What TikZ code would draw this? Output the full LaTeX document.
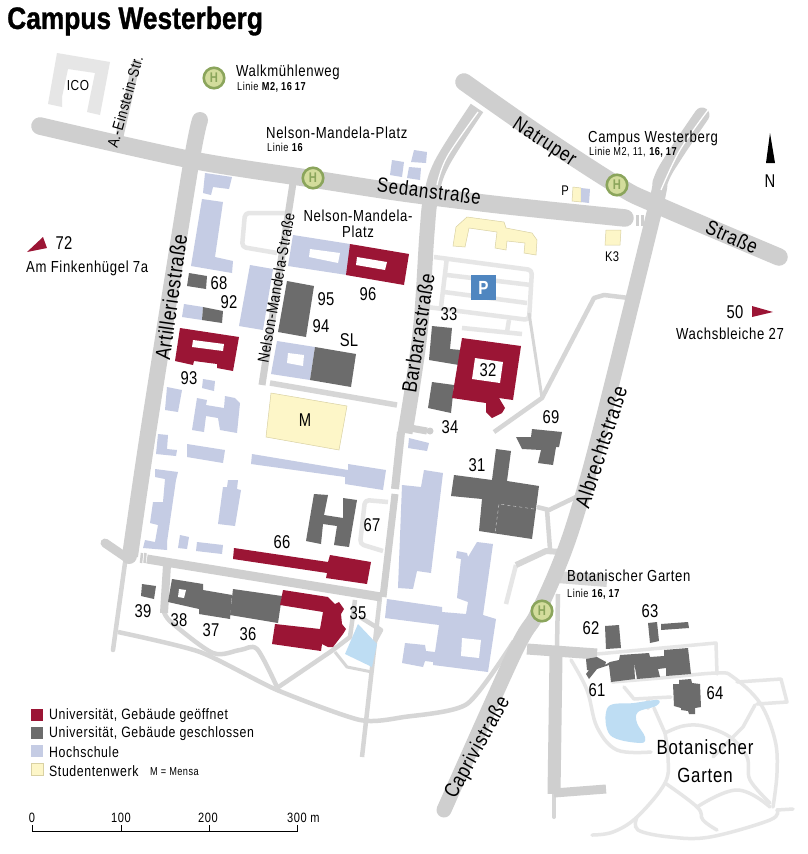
\documentclass[tikz,border=0pt]{standalone}
\usepackage{fontspec}
\setmainfont{Liberation Sans}[FakeStretch=0.8]
\newfontfamily\lab{Liberation Sans}[FakeStretch=0.82,LetterSpace=4]
\newfontfamily\numf{Liberation Sans}[FakeStretch=0.8,LetterSpace=2]
\newfontfamily\subf{Liberation Sans}[FakeStretch=0.8,LetterSpace=4]
\newfontfamily\ttl{Liberation Sans}[FakeStretch=0.85,BoldFeatures={FakeBold=1}]
\definecolor{uni}{HTML}{9B1535}
\definecolor{grau}{HTML}{6C6C6C}
\definecolor{hs}{HTML}{C5CCE4}
\definecolor{sw}{HTML}{FDF6C8}
\definecolor{swl}{HTML}{D9D1A3}
\definecolor{strasse}{HTML}{CFCFCF}
\definecolor{weg}{HTML}{D6D6D6}
\definecolor{hell}{HTML}{E6E6E6}
\definecolor{wasser}{HTML}{BEDDF3}
\definecolor{holive}{HTML}{8BA55C}
\definecolor{hfill}{HTML}{D3DC9C}
\definecolor{pblau}{HTML}{4F86C0}
\tikzset{
  road/.style={draw=strasse,line width=17.5pt,line cap=round,line join=round},
  lanerd/.style={draw=strasse,line width=15pt,line cap=round,line join=round},
  wayb/.style={draw=strasse,line width=9pt,line join=round},
  wayp/.style={draw=weg,line width=4.5pt,line join=round},
  lightway/.style={draw=hell,line width=4.5pt,line join=round,rounded corners=4pt},
  gard/.style={draw=hell,line width=3.5pt,line join=round,line cap=round},
  whiteline/.style={draw=white,line width=1.3pt},
  ubld/.style={fill=uni},
  gbld/.style={fill=grau},
  hbld/.style={fill=hs},
  ybld/.style={fill=sw,draw=swl,line width=.5pt},
  holebld/.style={fill=white},
  waterbody/.style={fill=wasser},
  nrlabel/.style={font=\numf\fontsize{18.5}{19}\selectfont,inner sep=0pt},
  stopname/.style={font=\lab\fontsize{16}{17}\selectfont,inner sep=0pt,anchor=west},
  legendtext/.style={font=\lab\fontsize{15}{16}\selectfont,inner sep=0pt,anchor=west},
  scaletext/.style={font=\lab\fontsize{13.5}{14}\selectfont,inner sep=0pt},
  subline/.style={font=\subf\fontsize{11.5}{12}\selectfont,inner sep=0pt,anchor=west},
  strname/.style={font=\lab\fontsize{20.5}{21}\selectfont,inner sep=0pt},
  hstop/.style={circle,draw=holive,line width=2.6pt,fill=hfill,minimum size=20.5pt,inner sep=0pt,text=holive,font=\bfseries\fontsize{14}{14}\selectfont},
  keybox/.style={minimum width=12pt,minimum height=11.5pt,inner sep=0pt,anchor=north west},
}
\begin{document}
\begin{tikzpicture}[x=1pt,y=-1pt]
\useasboundingbox (0,0) rectangle (808,854);
\fill[white] (0,0) rectangle (808,854);

% garden paths
\draw[gard] plot[smooth,tension=.6] coordinates {(612,682) (660,678) (717,673) (733,677) (760,703) (775,740) (777,773) (773,807)};
\draw[gard] (597,654) -- (716,643) -- (717,674);
\draw[gard] (737,682) -- (781,679) -- (787,702) -- (757,704);
\draw[gard] plot[smooth,tension=.6] coordinates {(571,660) (587,690) (597,727) (617,750) (651,752)};
\draw[gard] (624,687) -- (634,699) -- (671,697);
\draw[gard] (648,700) -- (648,708);
\draw[gard] (654,708) -- (665,733);
\draw[gard] plot[smooth,tension=.6] coordinates {(665,733) (683,726) (703,726) (730,737) (747,757) (750,780) (770,803)};
\draw[gard] (755,705) -- (743,727) -- (713,757);
\draw[gard] plot[smooth,tension=.6] coordinates {(665,733) (668,757) (665,783) (637,817) (613,832) (592,835)};
\draw[gard] plot[smooth,tension=.6] coordinates {(637,817) (638,830) (670,837) (710,837) (770,820) (777,810)};
\draw[gard] (777,810) -- (793,809);
\draw[gard] plot[smooth,tension=.7] coordinates {(665,783) (697,807) (703,820) (717,830)};
\draw[gard] plot[smooth,tension=.7] coordinates {(697,807) (737,790) (770,807)};

% light ways
\draw[lightway] (287,213) -- (245,213) -- (242,247) -- (277,253);
\draw[lightway] (388,502) -- (365,500) -- (360,544) -- (383,551);
\draw[lightway] (434,257) -- (532,270) -- (529,320) -- (427,307);
\draw[lightway] (447,257) -- (441,307);
\draw[lightway] (447,275) -- (531,285);
\draw[lightway] (444,292) -- (527,303);
\draw[lightway] (462,328) -- (522,334);
\draw[lightway] (509,320) -- (507,332);
\draw[lightway] (516,565) -- (506,604);

% ways
\draw[wayp] plot[smooth,tension=.5] coordinates {(164,612) (172,623) (213,653) (240,650) (257,649) (277,687)};
\draw[wayp] plot[smooth,tension=.4] coordinates {(118,632) (200,652) (277,690) (360,720) (404,717) (467,704) (514,641)};
\draw[wayp] (514,641) -- (520,645);
\draw[wayp] (277,688) -- (333,650) -- (350,637) -- (355,600);
\draw[wayp,line cap=round] (125,563) -- (113,650);
\draw[wayp] (380,597) -- (362,757);
\draw[wayp,line width=3pt] (335,652) -- (347,667) -- (372,672);
\draw[wayp] (360,617) -- (381,630) -- (375,641);
\draw[wayp] (629,298) -- (604,295) -- (594,298) -- (542,398) -- (494,432);
\draw[wayp,line width=3pt] (529,313) -- (542,398);
\draw[wayp,line width=5.5pt] (270,383) -- (397,405);
\draw[wayp] (537,507) -- (549,510) -- (576,497);
\draw[wayp] (547,510) -- (550,549);
\draw[wayp,line width=6pt] (516,565) -- (546,551) -- (561,552);
\draw[wayp] (558,594) -- (557,647);
\draw[wayp,line width=4pt,line cap=round] (554,792) -- (554,817);
\draw[wayp,line width=12pt] (557,577) -- (607,581);

% secondary streets
\draw[wayb,line width=7pt] (293,183) -- (262,385);
\draw[wayb,line width=8pt] (137,60) -- (117,147);
\draw[wayb] (147,559) -- (381,597);
\draw[wayb,line width=8pt] (167,565) -- (164,613);
\draw[wayb,line width=8pt] (401,432) -- (395,489);
\draw[wayb,line width=7pt] (395,494) -- (383,597);
\draw[wayb,line width=7pt] (410,428) -- (427,431);
\fill[strasse] (430,431) circle (3.5pt);
\draw[wayb,line width=11pt] (527,649) -- (597,654);
\draw[wayb,line width=13pt] (556,655) -- (554,794);
\draw[wayb] (554,793) -- (606,789);
\draw[wayb,line width=2.5pt] (142,553) -- (141,563);
\draw[wayb,line width=2.5pt] (145.5,553) -- (144.5,563);
\draw[wayb,line width=3pt] (637,215) -- (637,226);
\draw[wayb,line width=3pt] (642,215) -- (642,226);

% main roads
\draw[road] plot[smooth,tension=.5] coordinates {(40,126) (192,160) (313,179) (404,193) (500,205) (625,218)};
\draw[road,line width=16pt,line cap=butt] plot[smooth,tension=.5] coordinates {(200,120) (190,170) (149,427) (130,556)};
\fill[strasse] (200,120) circle (8pt);
\fill[strasse] (129,556) circle (8pt);
\draw[road,line width=9pt] (105,543) -- (124,556);
\draw[road] plot[smooth,tension=.6] coordinates {(464,82) (537,133) (617,185) (657,205) (779,257)};
\draw[lanerd,line cap=butt] plot[smooth,tension=.6] coordinates {(477,108) (442,163) (431,197) (427,233) (420,333) (405,433)};
\draw[whiteline] plot[smooth,tension=.6] coordinates {(478,112) (447,157) (437,185)};
\draw[lanerd] plot[smooth,tension=.6] coordinates {(702,115) (675,155) (661,180) (654,213) (601,427) (579,507) (561,560) (537,614) (514,654) (444,810)};
\draw[whiteline] plot[smooth,tension=.6] coordinates {(708,110) (680,150) (661,190)};

% Studentenwerk
\filldraw[ybld] (467,217) -- (504,222) -- (506,228) -- (532,233) -- (537,240) -- (536,255) -- (524,253) -- (525,243) -- (507,241) -- (506,250) -- (495,248) -- (497,232) -- (469,228) -- (465,247) -- (453,246) -- (456,227) -- cycle;
\filldraw[ybld] (573,187) -- (581,188) -- (581,202) -- (572,201) -- cycle;
\filldraw[ybld] (606,230) -- (621,230) -- (620,245) -- (605,245) -- cycle;
\filldraw[ybld] (271,393) -- (347,406) -- (339,450) -- (266,437) -- cycle;

% ICO
\fill[hell] (57,53) -- (110,62) -- (100,115) -- (87,112) -- (90,97) -- (95,73) -- (68,69) -- (62,97) -- (62,107) -- (48,104) -- cycle;

% Hochschule
\fill[hbld] (205,173) -- (232,177) -- (229,189) -- (213,187) -- (211,195) -- (203,193) -- cycle;
\fill[hbld] (202,199) -- (223,202) -- (215,257) -- (233,261) -- (232,273) -- (191,266) -- cycle;
\fill[hbld] (250,265) -- (273,269) -- (263,330) -- (239,326) -- cycle;
\fill[hbld] (293,235) -- (350,244) -- (347,275) -- (288,266) -- cycle;
\fill[holebld] (310,249) -- (340,253) -- (338,263) -- (309,257) -- cycle;
\fill[hbld] (184,304) -- (203,307) -- (202,320) -- (182,317) -- cycle;
\fill[hbld] (277,341) -- (315,347) -- (310,380) -- (271,374) -- cycle;
\fill[holebld] (288,353) -- (304,355) -- (303,366) -- (287,363) -- cycle;
\fill[hbld] (203,379) -- (215,381) -- (214,391) -- (202,388) -- cycle;
\fill[hbld] (167,387) -- (182,390) -- (178,412) -- (165,410) -- cycle;
\fill[hbld] (158,434) -- (168,435) -- (167,449) -- (177,450) -- (176,456) -- (156,454) -- cycle;
\fill[hbld] (197,398) -- (207,400) -- (206,405) -- (224,408) -- (225,396) -- (235,398) -- (240,403) -- (237,433) -- (220,430) -- (218,418) -- (206,416) -- (204,432) -- (192,430) -- cycle;
\fill[hbld] (187,444) -- (225,450) -- (223,463) -- (187,457) -- cycle;
\fill[hbld] (252,454) -- (348,470) -- (348,464) -- (386,470) -- (383,490) -- (345,484) -- (345,477) -- (251,464) -- cycle;
\fill[hbld] (155,469) -- (178,472) -- (176,480) -- (167,542) -- (167,550) -- (143,548) -- (145,540) -- (155,542) -- (158,525) -- (150,523) -- (153,502) -- (163,502) -- (165,479) -- (155,477) -- cycle;
\fill[hbld] (228,480) -- (238,480) -- (237,489) -- (241,490) -- (235,526) -- (218,524) -- (223,487) -- (227,487) -- cycle;
\fill[hbld] (180,535) -- (189,537) -- (187,549) -- (178,548) -- cycle;
\fill[hbld] (197,542) -- (223,545) -- (222,554) -- (196,551) -- cycle;
\fill[hbld] (581,188) -- (590,189) -- (589,203) -- (581,202) -- cycle;
\fill[hbld] (414,150) -- (427,152) -- (426,163) -- (411,162) -- cycle;
\fill[hbld] (409,167) -- (421,168) -- (420,180) -- (407,178) -- cycle;
\fill[hbld] (392,160) -- (404,162) -- (402,177) -- (390,175) -- cycle;
\fill[hbld] (409,438) -- (429,443) -- (427,451) -- (408,448) -- cycle;
\fill[hbld] (402,485) -- (421,487) -- (424,470) -- (443,473) -- (431,573) -- (417,571) -- (413,589) -- (398,588) -- cycle;
\fill[hbld] (387,599) -- (442,607) -- (442,612) -- (466,614) -- (468,602) -- (457,598) -- (461,559) -- (456,558) -- (457,551) -- (467,553) -- (468,557) -- (477,542) -- (493,544) -- (483,615) -- (496,619) -- (488,672) -- (433,665) -- (433,662) -- (425,661) -- (423,667) -- (402,663) -- (405,643) -- (425,645) -- (426,651) -- (435,652) -- (439,625) -- (385,618) -- cycle;
\fill[holebld] (462,638) -- (481,640) -- (479,658) -- (461,656) -- cycle;

% water
\fill[waterbody] (358,624) -- (377,644) -- (372,667) -- (345,654) -- cycle;
\fill[waterbody] plot[smooth cycle,tension=.6] coordinates {(608,707) (634,703) (658,700) (656,706) (638,712) (637,723) (645,737) (640,743) (610,735)};

% Universitaet geschlossen
\fill[gbld] (189,273) -- (207,276) -- (206,289) -- (187,286) -- cycle;
\fill[gbld] (203,307) -- (223,311) -- (222,323) -- (202,320) -- cycle;
\fill[gbld] (287,281) -- (314,286) -- (306,337) -- (278,332) -- cycle;
\fill[gbld] (315,347) -- (356,354) -- (351,387) -- (310,380) -- cycle;
\fill[gbld] (314,494) -- (328,495) -- (324,515) -- (343,518) -- (343,498) -- (357,500) -- (349,547) -- (334,545) -- (337,526) -- (323,524) -- (321,544) -- (306,541) -- cycle;
\fill[gbld] (142,584) -- (156,586) -- (154,599) -- (141,596) -- cycle;
\fill[gbld] (172,579) -- (203,584) -- (203,590) -- (232,595) -- (230,619) -- (199,614) -- (199,609) -- (168,602) -- cycle;
\fill[holebld] (179,589) -- (186,590) -- (184,598) -- (178,597) -- cycle;
\fill[gbld] (233,589) -- (282,596) -- (278,623) -- (230,615) -- cycle;
\fill[gbld] (432,326) -- (452,328) -- (450,349) -- (461,350) -- (459,365) -- (429,360) -- cycle;
\fill[gbld] (432,382) -- (454,385) -- (451,413) -- (428,408) -- cycle;
\fill[gbld] (532,429) -- (562,432) -- (559,447) -- (556,447) -- (553,465) -- (538,463) -- (541,450) -- (522,449) -- (516,437) -- (531,437) -- cycle;
\fill[gbld] (496,449) -- (511,451) -- (507,481) -- (539,486) -- (532,539) -- (479,531) -- (482,499) -- (451,496) -- (454,475) -- (492,480) -- cycle;
\draw[white!75!grau,line width=.4pt,dashed] (534,509) -- (499,504) -- (495,533);
\fill[gbld] (605,626) -- (619,625) -- (621,648) -- (606,649) -- cycle;
\fill[gbld] (648,623) -- (657,622) -- (659,641) -- (650,643) -- cycle;
\fill[gbld] (661,624) -- (688,622) -- (689,628) -- (661,630) -- cycle;
\fill[gbld] (586,659) -- (597,657) -- (606,662) -- (605,665) -- (610,662) -- (619,660) -- (620,655) -- (649,653) -- (650,657) -- (664,656) -- (664,650) -- (688,648) -- (691,674) -- (666,676) -- (666,668) -- (658,669) -- (660,677) -- (637,679) -- (634,662) -- (635,679) -- (611,682) -- (609,665) -- (597,669) -- (589,679) -- (586,674) -- (589,670) -- (587,670) -- cycle;
\fill[gbld] (679,680) -- (691,679) -- (692,683) -- (700,684) -- (701,707) -- (695,708) -- (695,714) -- (689,714) -- (688,711) -- (681,710) -- (681,708) -- (674,706) -- (673,684) -- (679,684) -- cycle;

% Universitaet geoeffnet
\fill[ubld] (350,244) -- (409,254) -- (404,285) -- (346,275) -- cycle;
\fill[holebld] (357,257) -- (387,262) -- (385,270) -- (356,265) -- cycle;
\fill[ubld] (180,328) -- (239,337) -- (233,371) -- (217,368) -- (217,364) -- (194,361) -- (193,365) -- (175,361) -- cycle;
\fill[holebld] (193,340) -- (224,344) -- (223,351) -- (192,347) -- cycle;
\fill[ubld] (234,548) -- (328,562) -- (330,555) -- (371,562) -- (367,584) -- (326,578) -- (327,573) -- (233,559) -- cycle;
\fill[ubld] (283,590) -- (328,597) -- (335,604) -- (339,602) -- (344,609) -- (341,614) -- (342,624) -- (346,629) -- (343,634) -- (333,647) -- (328,647) -- (322,644) -- (321,651) -- (272,644) -- (275,624) -- (320,629) -- (323,612) -- (280,605) -- cycle;
\fill[ubld] (462,338) -- (521,346) -- (513,400) -- (499,398) -- (505,408) -- (502,413) -- (492,418) -- (486,412) -- (486,403) -- (452,398) -- cycle;
\fill[holebld] (475,358) -- (503,362) -- (500,383) -- (472,379) -- cycle;

% outside markers
\fill[ubld] (27,252) -- (43,237) -- (47,248) -- cycle;
\fill[ubld] (752,306) -- (773,312) -- (752,317) -- cycle;
\fill[black] (770,133) -- (775,163) -- (766,163) -- cycle;

% parking sign
\node[fill=pblau,text=white,minimum size=25pt,inner sep=0pt,font=\bfseries\fontsize{19}{19}\selectfont] (psign) at (483.5,287.5) {P};

% stops
\node[hstop] (h1) at (214,78) {H};
\node[hstop] (h2) at (313,178) {H};
\node[hstop] (h3) at (617,185) {H};
\node[hstop] (h4) at (542,611) {H};

% title
\node[inner sep=0pt,anchor=west,font=\ttl\bfseries\fontsize{31}{32}\selectfont] (title) at (7,21) {Campus Westerberg};

% stop names
\node[stopname] (n1) at (236,72) {Walkmühlenweg};
\node[subline] (s1) at (237,87) {Linie \textbf{M2, 16 17}};
\node[stopname] (n2) at (266,133) {Nelson-Mandela-Platz};
\node[subline] (s2) at (267,147) {Linie \textbf{16}};
\node[stopname] (n3) at (588,138) {Campus Westerberg};
\node[subline] (s3) at (589,152) {Linie M2, 11, \textbf{16, 17}};
\node[stopname] (n4) at (567,576) {Botanischer Garten};
\node[subline] (s4) at (567,594) {Linie \textbf{16, 17}};
\node[stopname,anchor=center,align=center,font=\lab\fontsize{16}{16}\selectfont] (n5) at (358,224) {Nelson-Mandela-\\Platz};
\node[stopname] (n6) at (26,268) {Am Finkenhügel 7a};
\node[stopname] (n7) at (676,334) {Wachsbleiche 27};
\node[stopname,anchor=center,font=\lab\fontsize{14.5}{15}\selectfont] (ico) at (78,85.5) {ICO};
\node[stopname,anchor=center,font=\numf\fontsize{14}{15}\selectfont] (pp) at (565,191) {P};
\node[stopname,anchor=center,font=\numf\fontsize{14}{15}\selectfont] (k3) at (612,257) {K3};
\node[nrlabel] (north) at (770,181) {N};

% streets
\node[strname] (st1) at (429,191) [rotate=-7] {Sedanstraße};
\node[strname] (st2) at (544,143) [rotate=-33] {Natruper};
\node[strname] (st3) at (732,237) [rotate=-24] {Straße};
\node[strname,font=\lab\fontsize{21.5}{22}\selectfont] (st4) at (171,297) [rotate=82] {Artilleriestraße};
\node[strname,font=\lab\fontsize{16}{17}\selectfont] (st5) at (276,288) [rotate=80] {Nelson-Mandela-Straße};
\node[strname,font=\lab\fontsize{15.5}{16}\selectfont] (st6) at (125,102) [rotate=74] {A.-Einstein-Str.};
\node[strname,font=\lab\fontsize{21}{22}\selectfont] (st7) at (418,333) [rotate=81] {Barbarastraße};
\node[strname,font=\lab\fontsize{21.5}{22}\selectfont] (st8) at (601,447) [rotate=72] {Albrechtstraße};
\node[strname,font=\lab\fontsize{21}{22}\selectfont] (st9) at (478,748) [rotate=61] {Caprivistraße};

% building numbers
\node[nrlabel] (b72) at (64,243) {72};
\node[nrlabel] (b50) at (735,312) {50};
\node[nrlabel] (b68) at (219,283) {68};
\node[nrlabel] (b92) at (229,302) {92};
\node[nrlabel] (b93) at (189,378) {93};
\node[nrlabel] (b95) at (326,299) {95};
\node[nrlabel] (b94) at (321,326) {94};
\node[nrlabel] (b96) at (368,294) {96};
\node[nrlabel] (bsl) at (349,340) {SL};
\node[nrlabel] (bm) at (305,420) {M};
\node[nrlabel] (b33) at (449,314) {33};
\node[nrlabel] (b32) at (488,370) {32};
\node[nrlabel] (b34) at (450,427) {34};
\node[nrlabel] (b69) at (551,417) {69};
\node[nrlabel] (b31) at (477,465) {31};
\node[nrlabel] (b66) at (282,542) {66};
\node[nrlabel] (b67) at (372,525) {67};
\node[nrlabel] (b39) at (143,611) {39};
\node[nrlabel] (b38) at (179,620) {38};
\node[nrlabel] (b37) at (211,630) {37};
\node[nrlabel] (b36) at (248,634) {36};
\node[nrlabel] (b35) at (358,613) {35};
\node[nrlabel] (b62) at (591,628) {62};
\node[nrlabel] (b63) at (650,611) {63};
\node[nrlabel] (b61) at (597,690) {61};
\node[nrlabel] (b64) at (715,693) {64};
\node[strname,font=\lab\fontsize{20.5}{28}\selectfont,align=center] (garten) at (705,761) {Botanischer\\Garten};

% legend
\node[keybox,fill=uni] (k1) at (31,709) {};
\node[keybox,fill=grau] (k2) at (31,727) {};
\node[keybox,fill=hs] (k3b) at (31,745) {};
\node[keybox,fill=sw,draw=swl,line width=.5pt] (k4) at (31,763) {};
\node[legendtext] (l1) at (49,716) {Universität, Gebäude geöffnet};
\node[legendtext] (l2) at (49,734) {Universität, Gebäude geschlossen};
\node[legendtext] (l3) at (49,752) {Hochschule};
\node[legendtext] (l4) at (49,771) {Studentenwerk};
\node[subline] (l5) at (150,772) {M = Mensa};

% scale
\draw[black,line width=.6pt] (32,825) -- (32,831) -- (297,831) -- (297,825);
\draw[black,line width=.6pt] (121,825) -- (121,831);
\draw[black,line width=.6pt] (209,825) -- (209,831);
\node[scaletext] (c0) at (32,818) {0};
\node[scaletext] (c1) at (121,818) {100};
\node[scaletext] (c2) at (208,818) {200};
\node[scaletext,anchor=west] (c3) at (287,818) {300 m};
\end{tikzpicture}
\end{document}
